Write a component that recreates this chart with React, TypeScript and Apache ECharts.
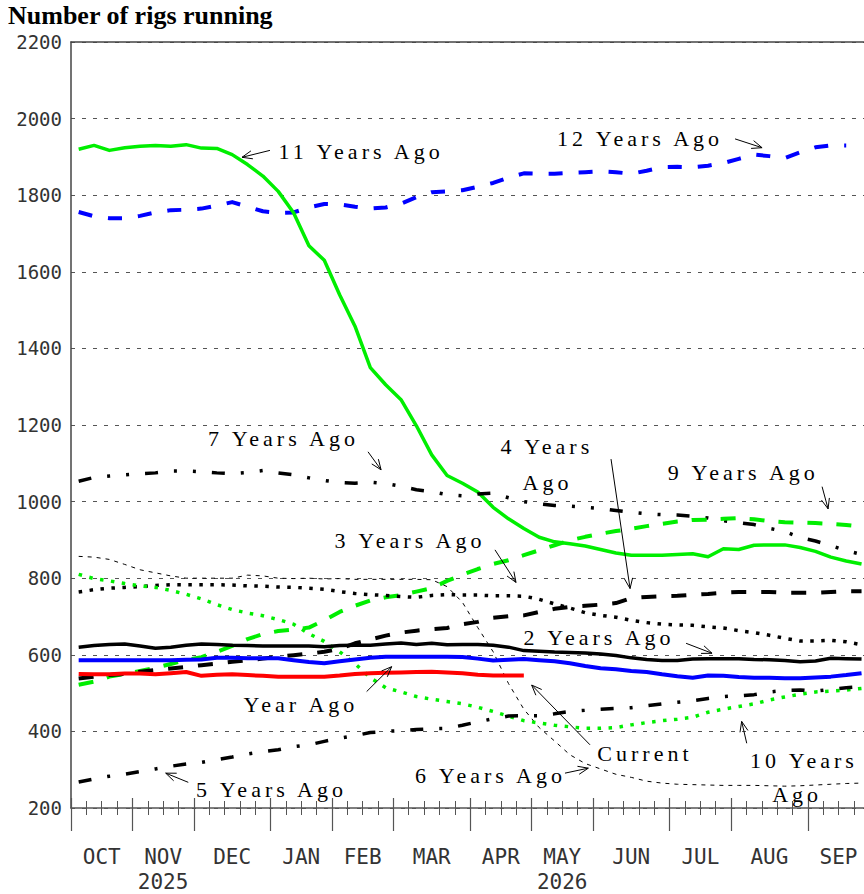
import React, { useEffect, useRef } from 'react';
import * as echarts from 'echarts';

// Week positions (centre of each week of the Oct..Sep year)
const weeks = [0.5, 1.5, 2.5, 3.5, 4.5, 5.5, 6.5, 7.5, 8.5, 9.5, 10.5, 11.5, 12.5, 13.5, 14.5, 15.5, 16.5, 17.5, 18.5, 19.5, 20.5, 21.5, 22.5, 23.5, 24.5, 25.5, 26.5, 27.5, 28.5, 29.5, 30.5, 31.5, 32.5, 33.5, 34.5, 35.5, 36.5, 37.5, 38.5, 39.5, 40.5, 41.5, 42.5, 43.5, 44.5, 45.5, 46.5, 47.5, 48.5, 49.5, 50.5, 51.5];
const weekTicks = [1, 2, 3, 5, 6, 7, 9, 10, 11, 12, 14, 15, 16, 18, 19, 20, 22, 23, 24, 25, 27, 28, 29, 31, 32, 33, 35, 36, 37, 38, 40, 41, 42, 44, 45, 46, 47, 49, 50, 51];
const monthBounds = [0, 4, 8, 13, 17, 21, 26, 30, 34, 39, 43, 48];
const monthCenters = [2, 6, 10.5, 15, 19, 23.5, 28, 32, 36.5, 41, 45.5, 50];
const monthNames = ['OCT', 'NOV', 'DEC', 'JAN', 'FEB', 'MAR', 'APR', 'MAY', 'JUN', 'JUL', 'AUG', 'SEP'];
const yearUnder: Record<string, string> = { NOV: '2025', MAY: '2026' };

const current = [550, 549, 549, 551, 551, 549, 552, 555, 545, 548, 549, 547, 545, 543, 543, 543, 543, 546, 550, 552, 553, 554, 555, 556, 554, 552, 548, 546, 546, 546];
const yearAgo = [586, 586, 586, 586, 586, 586, 586, 587, 588, 592, 592, 591, 591, 591, 586, 581, 578, 583, 588, 592, 595, 595, 595, 595, 595, 594, 590, 585, 587, 589, 586, 583, 578, 571, 565, 562, 558, 555, 549, 544, 540, 546, 545, 542, 540, 540, 539, 539, 541, 543, 547, 552];
const twoYearsAgo = [620, 624, 627, 628, 623, 617, 620, 625, 628, 627, 625, 624, 623, 623, 623, 623, 621, 624, 625, 625, 628, 631, 627, 630, 626, 627, 627, 625, 620, 611, 609, 607, 606, 605, 602, 598, 592, 588, 585, 585, 589, 590, 590, 590, 588, 587, 585, 582, 584, 591, 590, 589];
const threeYearsAgo = [764, 770, 774, 776, 778, 781, 783, 783, 783, 783, 782, 780, 779, 777, 776, 774, 771, 765, 760, 757, 755, 752, 750, 755, 757, 756, 756, 754, 754, 753, 745, 733, 722, 710, 703, 698, 690, 684, 680, 678, 677, 673, 670, 663, 658, 651, 643, 636, 636, 638, 634, 626];
const fourYearsAgo = [538, 543, 547, 550, 556, 560, 564, 568, 573, 577, 582, 586, 590, 595, 599, 603, 608, 616, 630, 640, 650, 658, 663, 667, 670, 680, 686, 697, 701, 703, 712, 720, 725, 728, 731, 735, 748, 751, 753, 754, 757, 759, 762, 764, 764, 764, 762, 762, 762, 764, 766, 766];
const fiveYearsAgo = [268, 276, 283, 288, 295, 302, 309, 315, 319, 326, 333, 341, 347, 352, 360, 365, 374, 382, 389, 397, 400, 402, 405, 407, 408, 416, 425, 433, 440, 441, 441, 446, 452, 455, 458, 460, 462, 467, 472, 476, 480, 486, 491, 493, 496, 503, 507, 508, 505, 510, 514, 517];
const sixYearsAgo = [857, 855, 849, 836, 822, 814, 806, 800, 800, 800, 800, 808, 806, 800, 799, 800, 798, 799, 797, 797, 797, 797, 797, 796, 778, 737, 671, 608, 525, 458, 410, 375, 339, 316, 302, 288, 280, 270, 265, 262, 261, 260, 259, 259, 259, 258, 257, 258, 260, 262, 264, 265];
const sevenYearsAgo = [1053, 1063, 1067, 1070, 1073, 1075, 1080, 1080, 1078, 1075, 1073, 1076, 1081, 1075, 1070, 1062, 1055, 1050, 1048, 1051, 1047, 1040, 1031, 1026, 1018, 1015, 1020, 1022, 1010, 1000, 994, 990, 988, 985, 982, 977, 972, 968, 966, 965, 962, 957, 950, 945, 940, 930, 922, 906, 897, 885, 872, 862];
const nineYearsAgo = [522, 530, 543, 550, 558, 566, 576, 586, 594, 608, 623, 641, 654, 662, 666, 671, 690, 712, 728, 742, 750, 756, 765, 774, 793, 809, 824, 837, 847, 860, 873, 886, 899, 908, 916, 923, 929, 936, 942, 948, 952, 953, 955, 957, 954, 949, 946, 945, 944, 942, 939, 935];
const tenYearsAgo = [810, 799, 793, 786, 780, 776, 768, 758, 746, 731, 718, 709, 702, 692, 680, 655, 635, 608, 577, 540, 514, 503, 491, 484, 478, 472, 463, 452, 440, 428, 422, 416, 412, 408, 408, 410, 417, 423, 428, 432, 437, 450, 458, 465, 472, 482, 490, 497, 503, 505, 508, 512];
const elevenYearsAgo = [1920, 1930, 1917, 1924, 1928, 1930, 1928, 1932, 1923, 1922, 1906, 1880, 1850, 1810, 1754, 1668, 1630, 1540, 1458, 1350, 1305, 1266, 1198, 1122, 1068, 1048, 1025, 985, 955, 930, 907, 895, 890, 884, 875, 866, 860, 860, 860, 862, 864, 856, 877, 875, 886, 887, 887, 880, 870, 855, 845, 837];
const twelveYearsAgo = [1756, 1745, 1740, 1740, 1746, 1755, 1761, 1762, 1765, 1773, 1782, 1770, 1758, 1754, 1755, 1768, 1777, 1776, 1770, 1765, 1768, 1778, 1795, 1808, 1810, 1813, 1822, 1832, 1846, 1857, 1856, 1856, 1858, 1860, 1862, 1860, 1856, 1864, 1873, 1874, 1873, 1877, 1884, 1895, 1906, 1902, 1897, 1912, 1925, 1930, 1930];

// Annotation labels and arrows, in data coordinates [week, rigs]
const noteLabels: { text: string; at: number[] }[] = [
  { text: '11 Years Ago', at: [18.9, 1914] },
  { text: '12 Years Ago', at: [37.07, 1947] },
  { text: '7 Years Ago', at: [13.84, 1164] },
  { text: '4 Years', at: [31.0, 1145] },
  { text: 'Ago', at: [31.04, 1049] },
  { text: '9 Years Ago', at: [43.8, 1075] },
  { text: '3 Years Ago', at: [22.08, 898] },
  { text: '2 Years Ago', at: [34.4, 645] },
  { text: 'Year Ago', at: [14.98, 471] },
  { text: 'Current', at: [37.39, 343] },
  { text: '6 Years Ago', at: [27.33, 286] },
  { text: '5 Years Ago', at: [13.06, 247] },
  { text: '10 Years', at: [47.75, 325] },
  { text: 'Ago', at: [47.3, 234] },
];
const noteArrows: { from: number[]; to: number[] }[] = [
  { from: [12.96, 1917], to: [11.14, 1899] },
  { from: [43.26, 1947], to: [45.02, 1924] },
  { from: [19.35, 1130], to: [20.2, 1083] },
  { from: [35.18, 1111], to: [36.42, 773] },
  { from: [48.93, 1039], to: [49.32, 981] },
  { from: [27.62, 874], to: [28.99, 789] },
  { from: [40.07, 630], to: [41.76, 604] },
  { from: [19.26, 504], to: [20.89, 569] },
  { from: [33.81, 365], to: [30.01, 521] },
  { from: [32.18, 291], to: [33.7, 304] },
  { from: [7.64, 267], to: [6.17, 291] },
  { from: [44.02, 369], to: [43.69, 426] },
];

const LCD = '"DejaVu Sans Mono", monospace';
const SERIF = '"Liberation Serif", "Times New Roman", serif';

type Sty = { name: string; values: number[]; color: string; width: number; dash: any };
const seriesDefs: Sty[] = [
  { name: '12 Years Ago', values: twelveYearsAgo, color: '#0000ff', width: 4, dash: [14, 16] },
  { name: '11 Years Ago', values: elevenYearsAgo, color: '#00ee00', width: 3.5, dash: 'solid' },
  { name: '7 Years Ago', values: sevenYearsAgo, color: '#000000', width: 3.5, dash: [13, 16, 3, 16, 3, 16] },
  { name: '9 Years Ago', values: nineYearsAgo, color: '#00ee00', width: 4, dash: [15, 14] },
  { name: '4 Years Ago', values: fourYearsAgo, color: '#000000', width: 4, dash: [15, 15] },
  { name: '3 Years Ago', values: threeYearsAgo, color: '#000000', width: 3.5, dash: [3.5, 7.5] },
  { name: '6 Years Ago', values: sixYearsAgo, color: '#000000', width: 1, dash: [4, 5] },
  { name: '10 Years Ago', values: tenYearsAgo, color: '#00ee00', width: 3.5, dash: [3.5, 7.5] },
  { name: '5 Years Ago', values: fiveYearsAgo, color: '#000000', width: 3.5, dash: [13, 16, 3, 16] },
  { name: '2 Years Ago', values: twoYearsAgo, color: '#000000', width: 3.5, dash: 'solid' },
  { name: 'Year Ago', values: yearAgo, color: '#0000ff', width: 4, dash: 'solid' },
  { name: 'Current', values: current, color: '#ff0000', width: 4, dash: 'solid' },
];

const X_MAX = 51.66;
const AXIS_COLOR = '#555';

function baseX(extra: any) {
  return {
    type: 'value',
    min: 0,
    max: X_MAX,
    position: 'bottom',
    splitLine: { show: false },
    axisLine: { show: false },
    axisLabel: { show: false },
    axisTick: { show: false },
    ...extra,
  };
}

export default function App() {
  const ref = useRef<HTMLDivElement>(null);

  useEffect(() => {
    if (!ref.current) return;
    const chart = echarts.init(ref.current, null, { renderer: 'svg' });

    const option: any = {
      animation: false,
      backgroundColor: '#ffffff',
      title: {
        text: 'Number of rigs running',
        left: 8,
        top: 2,
        padding: 0,
        textStyle: { fontFamily: SERIF, fontWeight: 'bold', fontSize: 26, color: '#000' },
      },
      grid: { left: 71, right: 0, top: 42, bottom: 84, containLabel: false },
      xAxis: [
        baseX({
          axisLine: { show: true, onZero: false, lineStyle: { color: AXIS_COLOR, width: 1.5 } },
          axisTick: { show: true, inside: false, length: 23, customValues: monthBounds, lineStyle: { color: AXIS_COLOR, width: 1.2 } },
          axisLabel: {
            show: true,
            customValues: monthCenters,
            margin: 36,
            fontFamily: LCD,
            fontSize: 21,
            color: '#333',
            lineHeight: 25,
            formatter: (v: number) => {
              const i = monthCenters.indexOf(v);
              if (i < 0) return '';
              const m = monthNames[i];
              return yearUnder[m] ? m + '\n' + yearUnder[m] : m;
            },
          },
        }),
        baseX({ axisTick: { show: true, inside: true, length: 10, customValues: monthBounds, lineStyle: { color: AXIS_COLOR, width: 1.2 } } }),
        baseX({ axisTick: { show: true, inside: true, length: 7, customValues: weekTicks, lineStyle: { color: AXIS_COLOR, width: 1 } } }),
        baseX({ axisTick: { show: true, inside: false, length: 7, customValues: weekTicks, lineStyle: { color: AXIS_COLOR, width: 1 } } }),
        baseX({ position: 'top', axisLine: { show: true, onZero: false, lineStyle: { color: '#444', width: 1.5 } } }),
      ],
      yAxis: {
        type: 'value',
        min: 200,
        max: 2200,
        interval: 200,
        axisLine: { show: true, onZero: false, lineStyle: { color: '#444', width: 1.5 } },
        axisTick: { show: false },
        axisLabel: { fontFamily: LCD, fontSize: 19, color: '#333', margin: 9, formatter: (v: number) => String(v) },
        splitLine: { show: true, lineStyle: { color: '#555', width: 1.2, type: [4, 7] } },
      },
      series: seriesDefs.map((s) => ({
        name: s.name,
        type: 'line',
        xAxisIndex: 0,
        yAxisIndex: 0,
        symbol: 'none',
        silent: true,
        data: s.values.map((v, i) => [weeks[i], v]),
        lineStyle: { color: s.color, width: s.width, type: s.dash, cap: 'butt', join: 'round' },
      })),
    };
    chart.setOption(option);

    const px = (p: number[]) => chart.convertToPixel({ xAxisIndex: 0, yAxisIndex: 0 }, p) as number[];
    const graphics: any[] = [];
    noteLabels.forEach((l) => {
      const [x, y] = px(l.at);
      graphics.push({
        type: 'text',
        x,
        y,
        z: 100,
        silent: true,
        style: { text: l.text, fontFamily: SERIF, fontSize: 22, fill: '#000', align: 'center', verticalAlign: 'middle' },
      });
    });
    noteArrows.forEach((a) => {
      const [x1, y1] = px(a.from);
      const [x2, y2] = px(a.to);
      const ang = Math.atan2(y2 - y1, x2 - x1);
      const L = 11;
      const spread = 0.38;
      const pA = [x2 - L * Math.cos(ang - spread), y2 - L * Math.sin(ang - spread)];
      const pB = [x2 - L * Math.cos(ang + spread), y2 - L * Math.sin(ang + spread)];
      graphics.push({ type: 'line', z: 100, silent: true, shape: { x1, y1, x2, y2 }, style: { stroke: '#000', lineWidth: 1 } });
      graphics.push({ type: 'polyline', z: 100, silent: true, shape: { points: [pA, [x2, y2], pB] }, style: { stroke: '#000', lineWidth: 1, fill: null } });
    });
    chart.setOption({ graphic: graphics });

    const labelSet = new Set(noteLabels.map((l) => l.text));
    const space = () => {
      const root = ref.current;
      if (!root) return;
      root.querySelectorAll('text').forEach((t) => {
        if (labelSet.has((t.textContent || '').trim())) t.setAttribute('letter-spacing', '4');
      });
    };
    chart.on('finished', space);
    const timer = setTimeout(space, 60);

    return () => {
      clearTimeout(timer);
      chart.dispose();
    };
  }, []);

  return <div ref={ref} style={{ position: 'absolute', left: 0, top: 0, width: 864, height: 894 }} />;
}
